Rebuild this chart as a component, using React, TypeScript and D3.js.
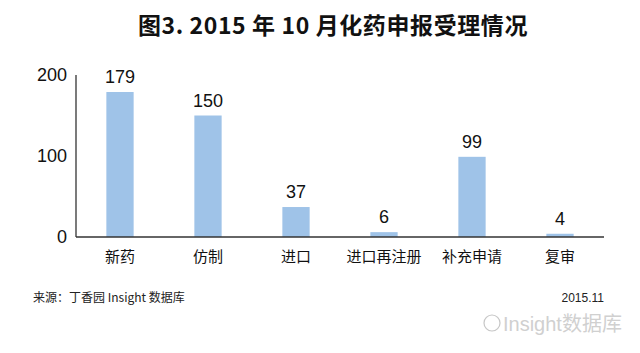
import React from "react";
import * as d3 from "d3";

const categories = ["新药", "仿制", "进口", "进口再注册", "补充申请", "复审"];
const values = [179, 150, 37, 6, 99, 4];
const yTicks = [0, 100, 200];

export default function App() {
  const W = 640, H = 353;
  const x = d3.scaleBand<string>().domain(categories).range([76, 604]).paddingInner(0.69).paddingOuter(0.345);
  const y = d3.scaleLinear().domain([0, 200]).range([237, 75]);
  const font = "'Noto Sans CJK SC', 'Noto Sans', sans-serif";
  const numFont = "'Liberation Sans', 'Noto Sans CJK SC', sans-serif";
  return (
    <svg width={W} height={H} style={{ position: "absolute", left: 0, top: 0, background: "#fff" }} fontFamily={font}>
      <rect width={W} height={H} fill="#fff" />
      <text x={333} y={34} textAnchor="middle" fontSize={23} fontWeight="bold" fill="#111" letterSpacing={0.6}>图3. 2015 年 10 月化药申报受理情况</text>
      {yTicks.map((t) => (
        <text key={t} x={67} y={y(t)} dy="0.36em" textAnchor="end" fontSize={18} fill="#111" fontFamily={numFont}>{t}</text>
      ))}
      {categories.map((c, i) => (
        <g key={c}>
          <rect x={x(c)!} y={y(values[i])} width={x.bandwidth()} height={y(0) - y(values[i])} fill="#9fc3e8" />
          <text x={x(c)! + x.bandwidth() / 2} y={y(values[i]) - 9} textAnchor="middle" fontSize={18} fill="#111" fontFamily={numFont}>{values[i]}</text>
          <text x={x(c)! + x.bandwidth() / 2} y={262} textAnchor="middle" fontSize={15} fill="#111">{c}</text>
        </g>
      ))}
      <line x1={76} x2={76} y1={75} y2={237} stroke="#333" strokeWidth={1.3} />
      <line x1={76} x2={604} y1={237} y2={237} stroke="#333" strokeWidth={1.3} />
      <text x={33} y={302} fontSize={12} fill="#222">来源：丁香园 Insight 数据库</text>
      <text x={604} y={302} textAnchor="end" fontSize={12} fill="#222" fontFamily={numFont}>2015.11</text>
      <g opacity={0.55}>
        <circle cx={492} cy={323} r={8} fill="none" stroke="#999" strokeWidth={1.2} />
        <text x={503} y={331} fontSize={20} fill="#aaa" fontFamily={numFont}>Insight数据库</text>
      </g>
    </svg>
  );
}
